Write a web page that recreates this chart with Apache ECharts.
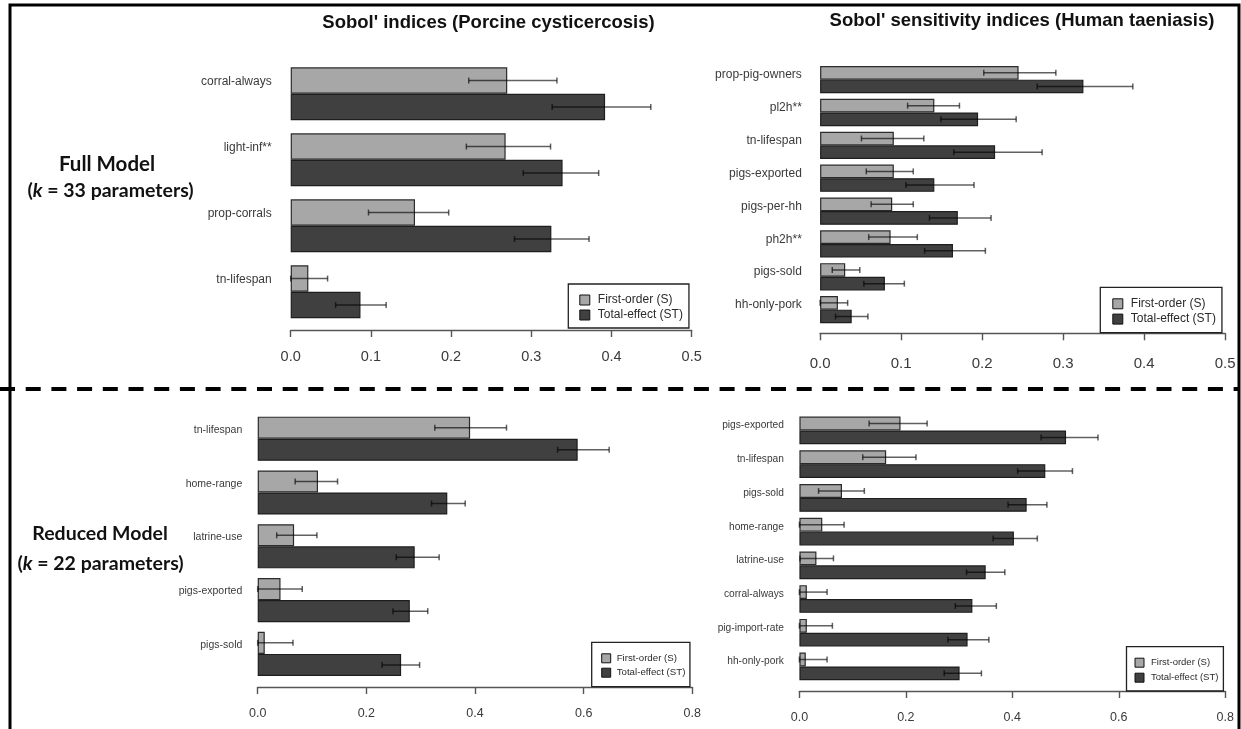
<!DOCTYPE html>
<html>
<head>
<meta charset="utf-8">
<script src="https://cdn.jsdelivr.net/npm/echarts@6/dist/echarts.min.js"></script>
<style>
  html, body { margin: 0; padding: 0; background: #fff; }
  #chart { width: 1241px; height: 729px; }
</style>
</head>
<body>
<div id="chart"></div>
<script>
// ---- Porcine cysticercosis, full model ----
const pcFullCats   = ['corral-always', 'light-inf**', 'prop-corrals', 'tn-lifespan'];
const pcFullS      = [0.270, 0.268, 0.155, 0.022];
const pcFullSLo    = [0.222, 0.219, 0.097, 0.000];
const pcFullSHi    = [0.332, 0.324, 0.197, 0.046];
const pcFullST     = [0.392, 0.339, 0.325, 0.087];
const pcFullSTLo   = [0.326, 0.290, 0.279, 0.056];
const pcFullSTHi   = [0.449, 0.384, 0.372, 0.119];

// ---- Human taeniasis, full model ----
const htFullCats   = ['prop-pig-owners', 'pl2h**', 'tn-lifespan', 'pigs-exported', 'pigs-per-hh', 'ph2h**', 'pigs-sold', 'hh-only-pork'];
const htFullS      = [0.245, 0.141, 0.091, 0.091, 0.089, 0.087, 0.031, 0.022];
const htFullSLo    = [0.202, 0.108, 0.051, 0.057, 0.063, 0.060, 0.015, 0.000];
const htFullSHi    = [0.291, 0.172, 0.128, 0.115, 0.115, 0.120, 0.049, 0.034];
const htFullST     = [0.325, 0.195, 0.216, 0.141, 0.170, 0.164, 0.080, 0.039];
const htFullSTLo   = [0.268, 0.149, 0.165, 0.106, 0.135, 0.129, 0.054, 0.019];
const htFullSTHi   = [0.386, 0.242, 0.274, 0.190, 0.211, 0.204, 0.104, 0.059];

// ---- Porcine cysticercosis, reduced model ----
const pcRedCats    = ['tn-lifespan', 'home-range', 'latrine-use', 'pigs-exported', 'pigs-sold'];
const pcRedS       = [0.391, 0.111, 0.067, 0.042, 0.013];
const pcRedSLo     = [0.326, 0.069, 0.035, 0.000, 0.000];
const pcRedSHi     = [0.458, 0.147, 0.109, 0.082, 0.065];
const pcRedST      = [0.589, 0.349, 0.289, 0.280, 0.264];
const pcRedSTLo    = [0.552, 0.320, 0.255, 0.249, 0.229];
const pcRedSTHi    = [0.647, 0.382, 0.334, 0.313, 0.298];

// ---- Human taeniasis, reduced model ----
const htRedCats    = ['pigs-exported', 'tn-lifespan', 'pigs-sold', 'home-range', 'latrine-use', 'corral-always', 'pig-import-rate', 'hh-only-pork'];
const htRedS       = [0.190, 0.163, 0.080, 0.043, 0.032, 0.014, 0.014, 0.012];
const htRedSLo     = [0.131, 0.119, 0.036, 0.000, 0.001, 0.000, 0.000, 0.000];
const htRedSHi     = [0.240, 0.219, 0.122, 0.084, 0.064, 0.052, 0.062, 0.052];
const htRedST      = [0.501, 0.462, 0.427, 0.403, 0.350, 0.325, 0.316, 0.301];
const htRedSTLo    = [0.454, 0.410, 0.392, 0.364, 0.314, 0.293, 0.279, 0.272];
const htRedSTHi    = [0.561, 0.513, 0.465, 0.447, 0.386, 0.370, 0.356, 0.342];

const S_NAME = 'First-order (S)';
const ST_NAME = 'Total-effect (ST)';

const FONT = "'Liberation Sans', Arial, sans-serif";

// Layout of each of the four sub-plots
const panels = [
  { cats: pcFullCats, s: pcFullS, sLo: pcFullSLo, sHi: pcFullSHi, st: pcFullST, stLo: pcFullSTLo, stHi: pcFullSTHi,
    grid: { left: 290.7, top: 60.8, width: 401, height: 264 }, max: 0.5, interval: 0.1, axisOffset: 5.2,
    gap: 0.197, catSize: 12, catLift: 23.4, catMargin: 19, tickSize: 14.5, tickMargin: 19.5,
    legend: { left: 568.3, top: 284, padding: [10, 6, 7, 11], gap: 3, lh: 12, size: 12, icon: 10, textPad: 3 } },
  { cats: htFullCats, s: htFullS, sLo: htFullSLo, sHi: htFullSHi, st: htFullST, stLo: htFullSTLo, stHi: htFullSTHi,
    grid: { left: 820.1, top: 63.2, width: 405.1, height: 262.9 }, max: 0.5, interval: 0.1, axisOffset: 7.2,
    gap: 0.169, catSize: 12, catLift: 9.3, catMargin: 18.3, tickSize: 15, tickMargin: 23,
    legend: { left: 1100.3, top: 287.3, padding: [10.5, 6, 7.5, 12], gap: 3.3, lh: 12, size: 12, icon: 10, textPad: 3 } },
  { cats: pcRedCats, s: pcRedS, sLo: pcRedSLo, sHi: pcRedSHi, st: pcRedST, stLo: pcRedSTLo, stHi: pcRedSTHi,
    grid: { left: 257.7, top: 411.8, width: 434.6, height: 269 }, max: 0.8, interval: 0.2, axisOffset: 6.2,
    gap: 0.18, catSize: 10.5, catLift: 17.4, catMargin: 15.4, tickSize: 12.5, tickMargin: 20,
    legend: { left: 591.7, top: 642.3, padding: [10.5, 4.5, 8.5, 9.5], gap: 3.4, lh: 11, size: 9.7, icon: 9, textPad: 1 } },
  { cats: htRedCats, s: htRedS, sLo: htRedSLo, sHi: htRedSHi, st: htRedST, stLo: htRedSTLo, stHi: htRedSTHi,
    grid: { left: 799.4, top: 413.6, width: 425.8, height: 269.7 }, max: 0.8, interval: 0.2, axisOffset: 7.7,
    gap: 0.178, catSize: 10.2, catLift: 9.6, catMargin: 15.5, tickSize: 12.5, tickMargin: 20,
    legend: { left: 1126.5, top: 646.7, padding: [10.5, 5, 7.8, 8], gap: 4, lh: 11, size: 9.5, icon: 9, textPad: 2 } }
];

const S_FILL = '#a7a7a7';
const ST_FILL = '#404040';

// Whisker with caps, placed on the S (upper) or ST (lower) bar of a category
function errorBarRenderer(gapFrac) {
  return function (params, api) {
    const cat = api.value(0);
    const lo = api.value(1);
    const hi = api.value(2);
    const kind = api.value(3);
    const band = api.size([0, 1])[1];
    const barW = band * (1 - gapFrac) / 2;
    const pLo = api.coord([lo, cat]);
    const pHi = api.coord([hi, cat]);
    const y = pLo[1] + (kind === 0 ? -barW / 2 : barW / 2);
    const cap = 3;
    const style = { stroke: 'rgba(0,0,0,0.62)', lineWidth: 1.5 };
    return {
      type: 'group',
      children: [
        { type: 'line', shape: { x1: pLo[0], y1: y, x2: pHi[0], y2: y }, style: style },
        { type: 'line', shape: { x1: pLo[0], y1: y - cap, x2: pLo[0], y2: y + cap }, style: style },
        { type: 'line', shape: { x1: pHi[0], y1: y - cap, x2: pHi[0], y2: y + cap }, style: style }
      ]
    };
  };
}

const grids = [], xAxes = [], yAxes = [], series = [], legends = [];

panels.forEach(function (p, i) {
  grids.push(Object.assign({ containLabel: false, outerBoundsMode: 'none' }, p.grid));
  xAxes.push({
    gridIndex: i, type: 'value', min: 0, max: p.max, interval: p.interval, offset: p.axisOffset,
    axisLine: { show: true, lineStyle: { color: '#555', width: 1.4 } },
    axisTick: { show: true, length: 7, lineStyle: { color: '#555', width: 1.4 } },
    axisLabel: { margin: p.tickMargin, color: '#3a3a3a', fontSize: p.tickSize, fontFamily: FONT,
                 formatter: function (v) { return v.toFixed(1); } },
    splitLine: { show: false }
  });
  // names sit level with the upper (first-order) bar of each pair
  yAxes.push({
    gridIndex: i, type: 'category', data: p.cats, inverse: true,
    axisLine: { show: false }, axisTick: { show: false }, splitLine: { show: false },
    axisLabel: { margin: p.catMargin, color: '#3a3a3a', fontSize: p.catSize, fontFamily: FONT,
                 verticalAlign: 'bottom', lineHeight: p.catLift, interval: 0 }
  });
  const barCommon = {
    type: 'bar', xAxisIndex: i, yAxisIndex: i, barGap: '0%',
    barCategoryGap: (p.gap * 100).toFixed(1) + '%', silent: true
  };
  series.push(Object.assign({}, barCommon, {
    name: S_NAME, data: p.s,
    itemStyle: { color: S_FILL, borderColor: '#2b2b2b', borderWidth: 1.2 }
  }));
  series.push(Object.assign({}, barCommon, {
    name: ST_NAME, data: p.st,
    itemStyle: { color: ST_FILL, borderColor: '#1e1e1e', borderWidth: 1.2 }
  }));
  const errData = [];
  p.cats.forEach(function (c, k) {
    errData.push([k, p.sLo[k], p.sHi[k], 0]);
    errData.push([k, p.stLo[k], p.stHi[k], 1]);
  });
  series.push({
    type: 'custom', xAxisIndex: i, yAxisIndex: i, z: 5, silent: true,
    renderItem: errorBarRenderer(p.gap),
    encode: { x: [1, 2], y: 0 },
    data: errData
  });
  const L = p.legend;
  legends.push({
    orient: 'vertical', left: L.left, top: L.top, padding: L.padding,
    itemWidth: L.icon, itemHeight: L.icon, itemGap: L.gap, icon: 'rect',
    borderColor: '#222', borderWidth: 1.3, selectedMode: false,
    data: [S_NAME, ST_NAME],
    itemStyle: { borderColor: '#111', borderWidth: 1 },
    textStyle: { fontSize: L.size, lineHeight: L.lh, color: '#2a2a2a', fontFamily: FONT, padding: [0, 0, 0, L.textPad] }
  });
});

const titleFont = { fontFamily: FONT, fontWeight: 'bold', fontSize: 18.5, color: '#111' };
const modelFont = "Lato, 'Open Sans', sans-serif";
function modelRich(size) {
  return {
    i: { fontFamily: modelFont, fontWeight: 'bold', fontStyle: 'italic', fontSize: size, color: '#111' },
    n: { fontFamily: modelFont, fontWeight: 'bold', fontSize: size, color: '#111' }
  };
}

const option = {
  backgroundColor: '#fff',
  animation: false,
  title: [
    { text: "Sobol' indices (Porcine cysticercosis)", left: 488.5, top: 13, padding: 0, textAlign: 'center', textStyle: titleFont },
    { text: "Sobol' sensitivity indices (Human taeniasis)", left: 1022, top: 11, padding: 0, textAlign: 'center', textStyle: titleFont },
    { text: '{n|Full Model}', left: 107, top: 153.5, padding: 0, textAlign: 'center', textStyle: { rich: modelRich(20.5) } },
    { text: '{n|(}{i|k}{n| = 33 parameters)}', left: 110.5, top: 180.5, padding: 0, textAlign: 'center', textStyle: { rich: modelRich(19.5) } },
    { text: '{n|Reduced Model}', left: 100, top: 523.5, padding: 0, textAlign: 'center', textStyle: { rich: modelRich(19.5) } },
    { text: '{n|(}{i|k}{n| = 22 parameters)}', left: 100.5, top: 553.5, padding: 0, textAlign: 'center', textStyle: { rich: modelRich(19.5) } }
  ],
  legend: legends,
  grid: grids,
  xAxis: xAxes,
  yAxis: yAxes,
  series: series,
  graphic: [
    { type: 'polyline', silent: true, z: 100,
      shape: { points: [[10, 740], [10, 5], [1239, 5], [1239, 740]] },
      style: { stroke: '#000', lineWidth: 3, fill: null } },
    { type: 'line', silent: true, z: 100,
      shape: { x1: 0, y1: 389, x2: 1239, y2: 389 },
      style: { stroke: '#000', lineWidth: 4, lineDash: [15, 10.7] } }
  ]
};

const chart = echarts.init(document.getElementById('chart'), null, { renderer: 'canvas' });
chart.setOption(option);
</script>
</body>
</html>
